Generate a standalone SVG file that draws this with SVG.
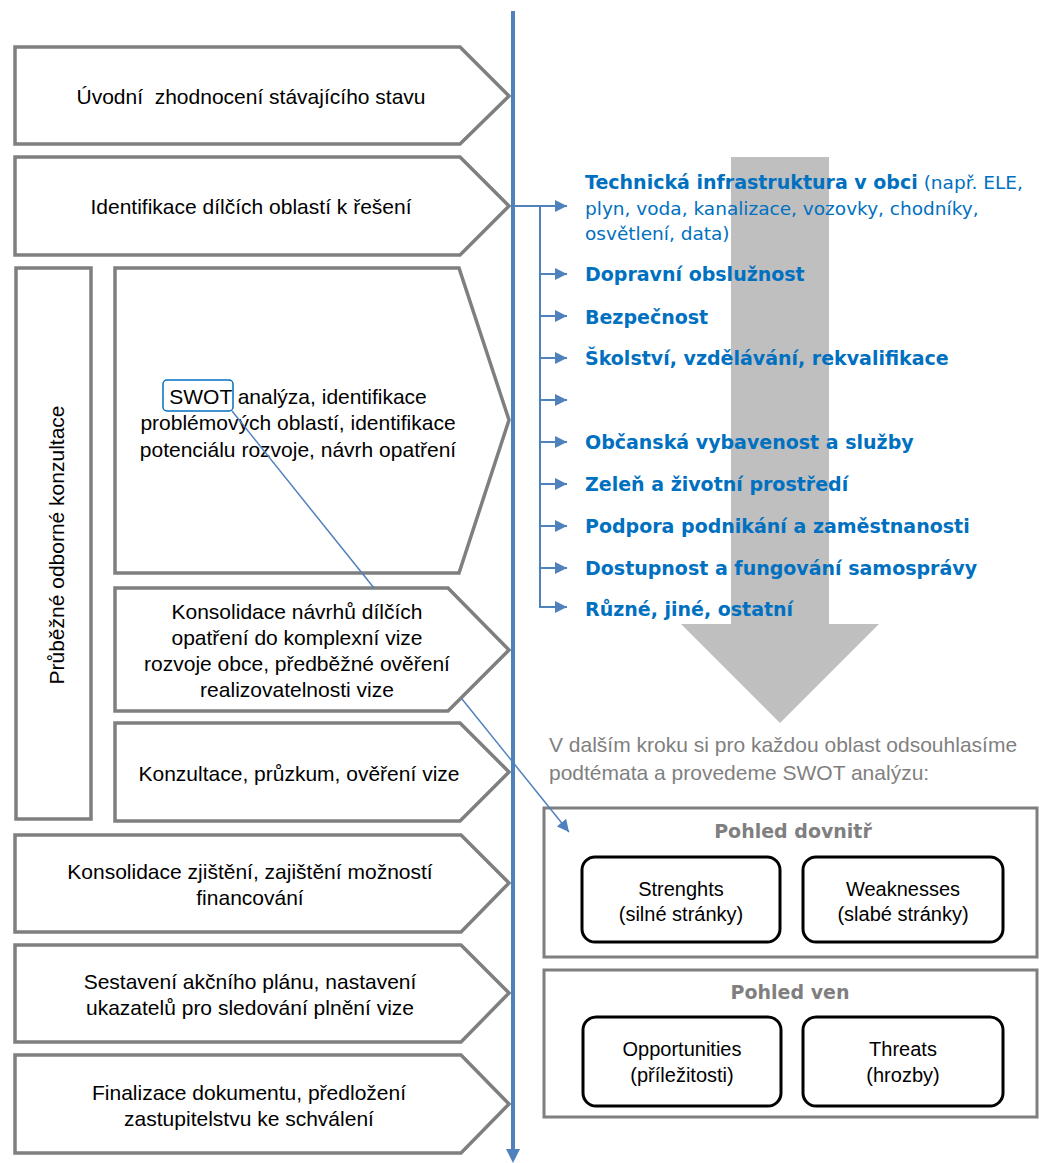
<svg xmlns="http://www.w3.org/2000/svg" width="1039" height="1163" viewBox="0 0 1039 1163">
<defs>
<style>
.box{fill:#fff;stroke:#7f7f7f;stroke-width:3.5}
.t{font-family:"Liberation Sans",Arial,sans-serif;font-size:21px;fill:#000;text-anchor:middle}
.gt{font-family:"Liberation Sans",Arial,sans-serif;font-size:21px;fill:#7f7f7f}
.topic{font-family:"DejaVu Sans",Verdana,sans-serif;font-size:19px;font-weight:bold;fill:#0070C0}
.reg{font-weight:normal;font-size:18.5px}
.head{font-family:"DejaVu Sans",Verdana,sans-serif;font-size:19px;font-weight:bold;fill:#7f7f7f;text-anchor:middle}
.frame{fill:#fff;stroke:#7f7f7f;stroke-width:3}
.card{fill:#fff;stroke:#000;stroke-width:3}
.ct{font-family:"Liberation Sans",Arial,sans-serif;font-size:20px;fill:#000;text-anchor:middle}
.conn{stroke:#4F81BD;fill:none}
</style>
<marker id="ah" markerUnits="userSpaceOnUse" markerWidth="12" markerHeight="12" refX="12" refY="6" orient="auto">
<path d="M0,0 L12,6 L0,12 z" fill="#4F81BD"/>
</marker>
</defs>

<g id="big-arrow">
<polygon points="731,157 829,157 829,624 879,624 780,723 681,624 731,624" fill="#bfbfbf"/>
</g>

<g id="step1">
<polygon class="box" points="15,47 460,47 509,96 460,144 15,144"/>
<text class="t" x="251" y="104" xml:space="preserve">Úvodní  zhodnocení stávajícího stavu</text>
</g>
<g id="step2">
<polygon class="box" points="15,157 460,157 509,206 460,255 15,255"/>
<text class="t" x="251" y="214">Identifikace dílčích oblastí k řešení</text>
</g>
<g id="consultation">
<rect class="box" x="16" y="268" width="75" height="551"/>
<text class="t" transform="translate(64,545) rotate(-90)">Průběžné odborné konzultace</text>
</g>
<g id="step3">
<polygon class="box" points="115,268 459,268 509,420 459,573 115,573"/>
<rect x="163" y="380" width="70" height="31" rx="4" fill="none" stroke="#0070C0" stroke-width="1.5"/>
<text class="t" x="298" y="404">SWOT analýza, identifikace</text>
<text class="t" x="298" y="430">problémových oblastí, identifikace</text>
<text class="t" x="298" y="457">potenciálu rozvoje, návrh opatření</text>
</g>
<g id="step4">
<polygon class="box" points="115,588 448,588 509,650 448,711 115,711"/>
<text class="t" x="297" y="619">Konsolidace návrhů dílčích</text>
<text class="t" x="297" y="645">opatření do komplexní vize</text>
<text class="t" x="297" y="671">rozvoje obce, předběžné ověření</text>
<text class="t" x="297" y="697">realizovatelnosti vize</text>
</g>
<g id="step5">
<polygon class="box" points="115,723 460,723 509,772 460,821 115,821"/>
<text class="t" x="299" y="781">Konzultace, průzkum, ověření vize</text>
</g>
<g id="step6">
<polygon class="box" points="15,835 461,835 509,883 461,932 15,932"/>
<text class="t" x="250" y="879">Konsolidace zjištění, zajištění možností</text>
<text class="t" x="250" y="905">financování</text>
</g>
<g id="step7">
<polygon class="box" points="15,945 461,945 509,993 461,1042 15,1042"/>
<text class="t" x="250" y="989">Sestavení akčního plánu, nastavení</text>
<text class="t" x="250" y="1015">ukazatelů pro sledování plnění vize</text>
</g>
<g id="step8">
<polygon class="box" points="15,1055 461,1055 509,1104 461,1153 15,1153"/>
<text class="t" x="249" y="1100">Finalizace dokumentu, předložení</text>
<text class="t" x="249" y="1126">zastupitelstvu ke schválení</text>
</g>

<g id="topic1"><text class="topic" x="585" y="189">Technická infrastruktura v obci<tspan class="reg"> (např. ELE,</tspan></text>
<text class="topic reg" x="585" y="215">plyn, voda, kanalizace, vozovky, chodníky,</text>
<text class="topic reg" x="585" y="240">osvětlení, data)</text></g>
<g id="topic2"><text class="topic" x="585" y="281">Dopravní obslužnost</text></g>
<g id="topic3"><text class="topic" x="585" y="324">Bezpečnost</text></g>
<g id="topic4"><text class="topic" x="585" y="365">Školství, vzdělávání, rekvalifikace</text></g>
<g id="topic6"><text class="topic" x="585" y="449">Občanská vybavenost a služby</text></g>
<g id="topic7"><text class="topic" x="585" y="491">Zeleň a životní prostředí</text></g>
<g id="topic8"><text class="topic" x="585" y="533">Podpora podnikání a zaměstnanosti</text></g>
<g id="topic9"><text class="topic" x="585" y="575">Dostupnost a fungování samosprávy</text></g>
<g id="topic10"><text class="topic" x="585" y="616">Různé, jiné, ostatní</text></g>

<g id="next-step">
<text class="gt" x="549" y="752">V dalším kroku si pro každou oblast odsouhlasíme</text>
<text class="gt" x="549" y="780">podtémata a provedeme SWOT analýzu:</text>
</g>

<g id="inner-view">
<rect class="frame" x="544" y="808" width="493" height="149"/>
<text class="head" x="793" y="838">Pohled dovnitř</text>
<g id="strengths">
<rect class="card" x="582" y="857" width="198" height="85" rx="13"/>
<text class="ct" x="681" y="896">Strenghts</text>
<text class="ct" x="681" y="921">(silné stránky)</text>
</g>
<g id="weaknesses">
<rect class="card" x="803" y="857" width="200" height="85" rx="13"/>
<text class="ct" x="903" y="896">Weaknesses</text>
<text class="ct" x="903" y="921">(slabé stránky)</text>
</g>
</g>
<g id="outer-view">
<rect class="frame" x="544" y="970" width="493" height="147"/>
<text class="head" x="790" y="999">Pohled ven</text>
<g id="opportunities">
<rect class="card" x="583" y="1017" width="198" height="89" rx="13"/>
<text class="ct" x="682" y="1056">Opportunities</text>
<text class="ct" x="682" y="1082">(příležitosti)</text>
</g>
<g id="threats">
<rect class="card" x="803" y="1017" width="200" height="89" rx="13"/>
<text class="ct" x="903" y="1056">Threats</text>
<text class="ct" x="903" y="1082">(hrozby)</text>
</g>
</g>

<g id="connectors">
<line class="conn" x1="513" y1="11" x2="513" y2="1150" stroke-width="4"/>
<polygon points="506,1149 520,1149 513,1163" fill="#4F81BD"/>
<line class="conn" x1="540" y1="206" x2="540" y2="607" stroke-width="2"/>
<line class="conn" x1="513" y1="206" x2="567" y2="206" stroke-width="2" marker-end="url(#ah)"/>
<line class="conn" x1="540" y1="274" x2="567" y2="274" stroke-width="2" marker-end="url(#ah)"/>
<line class="conn" x1="540" y1="316" x2="567" y2="316" stroke-width="2" marker-end="url(#ah)"/>
<line class="conn" x1="540" y1="358" x2="567" y2="358" stroke-width="2" marker-end="url(#ah)"/>
<line class="conn" x1="540" y1="400" x2="567" y2="400" stroke-width="2" marker-end="url(#ah)"/>
<line class="conn" x1="540" y1="442" x2="567" y2="442" stroke-width="2" marker-end="url(#ah)"/>
<line class="conn" x1="540" y1="484" x2="567" y2="484" stroke-width="2" marker-end="url(#ah)"/>
<line class="conn" x1="540" y1="526" x2="567" y2="526" stroke-width="2" marker-end="url(#ah)"/>
<line class="conn" x1="540" y1="568" x2="567" y2="568" stroke-width="2" marker-end="url(#ah)"/>
<line class="conn" x1="539" y1="607" x2="567" y2="607" stroke-width="2" marker-end="url(#ah)"/>
<line class="conn" x1="232" y1="411" x2="374" y2="588" stroke-width="1.5"/>
<line class="conn" x1="462" y1="699" x2="569" y2="832" stroke-width="1.5" marker-end="url(#ah)"/>
</g>
</svg>
